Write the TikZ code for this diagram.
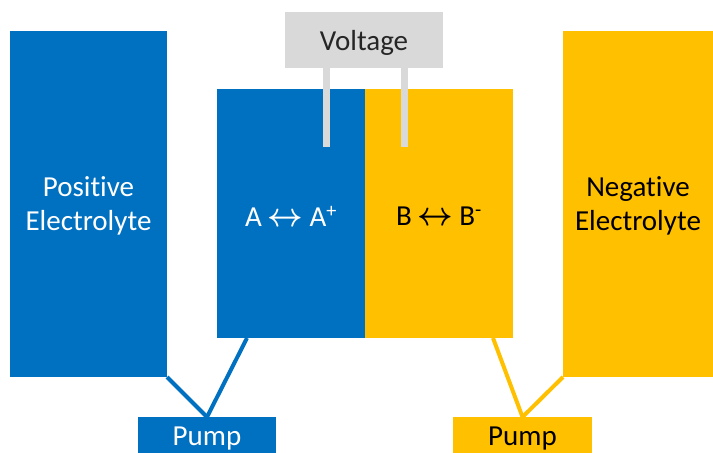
\documentclass[tikz,border=0pt]{standalone}
\usepackage{fontspec}
\setmainfont[Ligatures=NoCommon]{Carlito}
\definecolor{fblue}{HTML}{0070C0}
\definecolor{fyellow}{HTML}{FFC000}
\definecolor{fgray}{HTML}{D9D9D9}
\newcommand{\lra}{\hspace{6bp}{\scalebox{1.25}[1.35]{\boldmath$\leftrightarrow$}}\hspace{6bp}}
\newcommand{\dn}[1]{\raisebox{-3bp}[\height][\depth]{#1}}
\begin{document}
\begin{tikzpicture}[x=1bp,y=-1bp,
  box/.style={rectangle,inner sep=0pt,outer sep=0pt,draw=none,align=center,
    font=\fontsize{29bp}{34bp}\selectfont},
  bluebox/.style={box,fill=fblue,text=white},
  yellowbox/.style={box,fill=fyellow,text=black},
  graybox/.style={box,fill=fgray,text=black!85},
  bluelink/.style={draw=fblue,line width=4bp},
  yellowlink/.style={draw=fyellow,line width=4bp},
  lead/.style={draw=fgray,line width=7bp}]
\useasboundingbox (0,0) rectangle (713,453);
\node[bluebox,minimum width=157bp,minimum height=346bp] (posE) at (88.5,204) {\dn{\begin{tabular}{@{}c@{}}Positive\\Electrolyte\end{tabular}}};
\node[yellowbox,minimum width=150bp,minimum height=346bp] (negE) at (638,204) {\dn{\begin{tabular}{@{}c@{}}Negative\\Electrolyte\end{tabular}}};
\node[bluebox,minimum width=148bp,minimum height=249bp] (anode) at (291,213.5) {\dn{A\lra A\textsuperscript{+}}};
\node[yellowbox,minimum width=148bp,minimum height=249bp] (cathode) at (439,213.5) {\dn{B\lra B\textsuperscript{-}}};
\node[graybox,minimum width=158bp,minimum height=56bp] (volt) at (364,40) {\dn{Voltage}};
\node[bluebox,minimum width=138bp,minimum height=38bp] (pumpL) at (207,436) {\dn{Pump}};
\node[yellowbox,minimum width=139bp,minimum height=38bp] (pumpR) at (522.5,436) {\dn{Pump}};
% voltage leads
\coordinate (leadA) at (326,147);
\coordinate (leadB) at (404,147);
\draw[lead] (volt.south -| leadA) -- (leadA);
\draw[lead] (volt.south -| leadB) -- (leadB);
% pump connectors
\coordinate (anodeOut) at (247,338);
\coordinate (cathOut) at (493,338);
\draw[bluelink] (posE.south east) -- (pumpL.north);
\draw[bluelink] (anodeOut) -- (pumpL.north);
\draw[yellowlink] (cathOut) -- (pumpR.north);
\draw[yellowlink] (negE.south west) -- (pumpR.north);
\end{tikzpicture}
\end{document}
